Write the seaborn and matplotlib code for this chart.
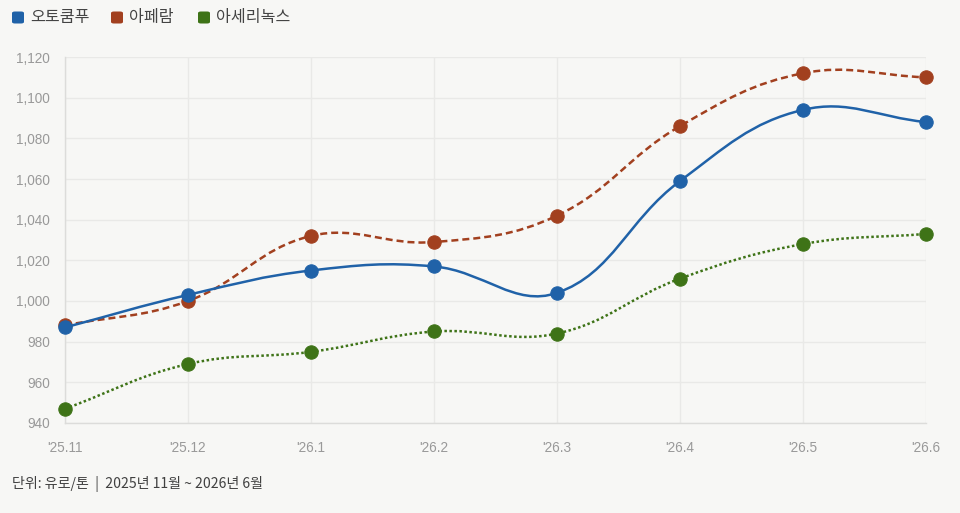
import numpy as np
import pandas as pd
import matplotlib
matplotlib.use("Agg")
import matplotlib.pyplot as plt
import seaborn as sns
from matplotlib.path import Path
from matplotlib.patches import PathPatch, FancyBboxPatch

# ---- data ----
months = ["'25.11", "'25.12", "'26.1", "'26.2", "'26.3", "'26.4", "'26.5", "'26.6"]
series_names = ["오토쿰푸", "아페람", "아세리녹스"]
outokumpu = [987, 1003, 1015, 1017, 1004, 1059, 1094, 1088]
aperam = [988, 1000, 1032, 1029, 1042, 1086, 1112, 1110]
acerinox = [947, 969, 975, 985, 984, 1011, 1028, 1033]
y_ticks = [940, 960, 980, 1000, 1020, 1040, 1060, 1080, 1100, 1120]
footer = "단위: 유로/톤  |  2025년 11월 ~ 2026년 6월"

colors = ["#2062a8", "#a2401f", "#3e7317"]
styles = ["-", (0, (2.8, 1.6)), (0, (1.0, 1.0))]

sns.set_theme(style="white")
plt.rcParams['font.family'] = ['Liberation Sans', 'Noto Sans CJK KR', 'DejaVu Sans']
BG = "#f7f7f5"

fig = plt.figure(figsize=(9.6, 5.13), dpi=100, facecolor=BG)
W, H = 960, 513
left, right, top, bottom = 65, 926, 57, 423
ax = fig.add_axes([left / W, (H - bottom) / H, (right - left) / W, (bottom - top) / H])
ax.set_facecolor(BG)

x = np.arange(len(months))
ax.set_xlim(0, len(months) - 1)
ax.set_ylim(940, 1120)

# pixel scale for Chart.js style spline control points
sx = (right - left) / (len(months) - 1)
sy = (bottom - top) / (1120 - 940)


def spline_path(xs, ys, tension=0.4):
    px = np.array(xs, float) * sx
    py = np.array(ys, float) * sy
    n = len(px)
    cps_prev, cps_next = [], []
    for i in range(n):
        p0 = (px[max(i - 1, 0)], py[max(i - 1, 0)])
        p1 = (px[i], py[i])
        p2 = (px[min(i + 1, n - 1)], py[min(i + 1, n - 1)])
        d01 = np.hypot(p1[0] - p0[0], p1[1] - p0[1])
        d12 = np.hypot(p2[0] - p1[0], p2[1] - p1[1])
        tot = d01 + d12
        s01 = d01 / tot if tot else 0
        s12 = d12 / tot if tot else 0
        fa, fb = tension * s01, tension * s12
        cps_prev.append((p1[0] - fa * (p2[0] - p0[0]), p1[1] - fa * (p2[1] - p0[1])))
        cps_next.append((p1[0] + fb * (p2[0] - p0[0]), p1[1] + fb * (p2[1] - p0[1])))
    verts = [(px[0], py[0])]
    codes = [Path.MOVETO]
    for i in range(1, n):
        verts += [cps_next[i - 1], cps_prev[i], (px[i], py[i])]
        codes += [Path.CURVE4] * 3
    verts = [(vx / sx, vy / sy) for vx, vy in verts]
    return Path(verts, codes)


df = pd.DataFrame({"x": np.tile(x, 3),
                   "value": outokumpu + aperam + acerinox,
                   "series": np.repeat(series_names, len(months))})

all_vals = [outokumpu, aperam, acerinox]
# draw in reverse so first dataset is on top
for k in [2, 1, 0]:
    z = 3 + (2 - k) * 2
    path = spline_path(x, all_vals[k])
    patch = PathPatch(path, facecolor="none", edgecolor=colors[k], lw=1.8,
                      linestyle=styles[k], capstyle="butt", zorder=z)
    ax.add_patch(patch)
    sub = df[df["series"] == series_names[k]]
    sns.scatterplot(data=sub, x="x", y="value", ax=ax, color=colors[k], s=92,
                    edgecolor=colors[k], linewidth=0.8, zorder=z + 1, legend=False,
                    clip_on=False)

ax.set_xticks(x)
ax.set_xticklabels(months)
ax.set_yticks(y_ticks)
ax.set_yticklabels([f"{v:,}" for v in y_ticks])
ax.set_xlabel("")
ax.set_ylabel("")
ax.grid(True, color="#e9e9e7", lw=1.0)
ax.set_axisbelow(True)
for s in ["top", "right"]:
    ax.spines[s].set_visible(False)
for s in ["left", "bottom"]:
    ax.spines[s].set_color("#dcdcda")
    ax.spines[s].set_linewidth(1.0)
ax.tick_params(axis="both", colors="#e0e0de", length=7.2, width=1.0,
               labelcolor="#999999", labelsize=9.8, pad=3.5)
ax.tick_params(axis="x", pad=6)

# legend (manual, top-left)
leg_items = [(12, series_names[0]), (111, series_names[1]), (198, series_names[2])]
for (lx, name), c in zip(leg_items, colors):
    fig.patches.append(FancyBboxPatch(((lx) / W, (H - 23.5) / H), 12 / W, 12 / H,
                                      boxstyle="round,pad=0,rounding_size=0.003",
                                      transform=fig.transFigure, facecolor=c,
                                      edgecolor="none"))
    fig.text((lx + 18) / W, (H - 17.5) / H, name, ha="left", va="center",
             fontsize=11.6, color="#444444",
             family=['Noto Sans CJK KR', 'DejaVu Sans'])

fig.text(12 / W, (H - 484) / H, footer, ha="left", va="center", fontsize=10.1,
         color="#404040", family=['Noto Sans CJK KR', 'DejaVu Sans'])

fig.savefig("out.png", dpi=100, facecolor=BG)
